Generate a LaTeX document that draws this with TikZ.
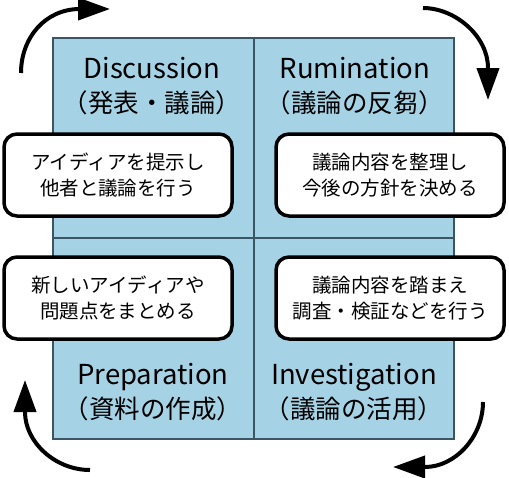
\documentclass[tikz,border=0pt]{standalone}
\usepackage{fontspec}
\setmainfont{Noto Sans CJK JP}
\usetikzlibrary{arrows.meta}
\definecolor{quadfill}{HTML}{A5D3E5}
\definecolor{quadline}{HTML}{3A5564}
\tikzset{
  quad/.style={draw=quadline, fill=quadfill, line width=1.2pt},
  title/.style={align=center, font=\fontsize{27.5}{34}\selectfont, inner sep=0pt},
  note/.style={draw=black, fill=white, line width=3.5pt, rounded corners=13pt, minimum width=228pt, minimum height=82pt, align=center, font=\fontsize{19.5}{26}\selectfont, inner sep=0pt},
  cyc/.style={line width=4pt, -{Triangle[length=32pt,width=22pt]}}
}
\newcommand{\jp}[1]{{\fontsize{25.5}{34}\selectfont #1}}
\begin{document}
\begin{tikzpicture}[x=1pt,y=-1pt]
\useasboundingbox (0,0) rectangle (509,477);
\draw[quad] (53,38) rectangle (254,238);
\draw[quad] (254,38) rectangle (454,238);
\draw[quad] (53,238) rectangle (254,439);
\draw[quad] (254,238) rectangle (454,439);
\node[title] (t1) at (152,86) {Discussion\\\jp{（発表・議論）}};
\node[title] (t2) at (355,86) {Rumination\\\jp{（議論の反芻）}};
\node[title] (t3) at (153,392) {Preparation\\\jp{（資料の作成）}};
\node[title] (t4) at (354,392) {Investigation\\\jp{（議論の活用）}};
\node[note] (n1) at (118,175) {アイディアを提示し\\他者と議論を行う};
\node[note] (n2) at (390,175) {議論内容を整理し\\今後の方針を決める};
\node[note] (n3) at (118,298) {新しいアイディアや\\問題点をまとめる};
\node[note] (n4) at (390,298) {議論内容を踏まえ\\調査・検証などを行う};
\coordinate (a1s) at (21,73);
\coordinate (a1e) at (110,9);
\coordinate (a2s) at (423,8);
\coordinate (a2e) at (488,100);
\coordinate (a3s) at (483,402);
\coordinate (a3e) at (393,467);
\coordinate (a4s) at (90,470);
\coordinate (a4e) at (25,380);
\draw[cyc] (a1s) .. controls (21,38) and (45,9) .. (80,9) -- (a1e);
\draw[cyc] (a2s) .. controls (455,8) and (488,36) .. (488,68) -- (a2e);
\draw[cyc] (a3s) .. controls (483,437) and (455,467) .. (425,467) -- (a3e);
\draw[cyc] (a4s) .. controls (55,470) and (25,442) .. (25,412) -- (a4e);
\end{tikzpicture}
\end{document}
